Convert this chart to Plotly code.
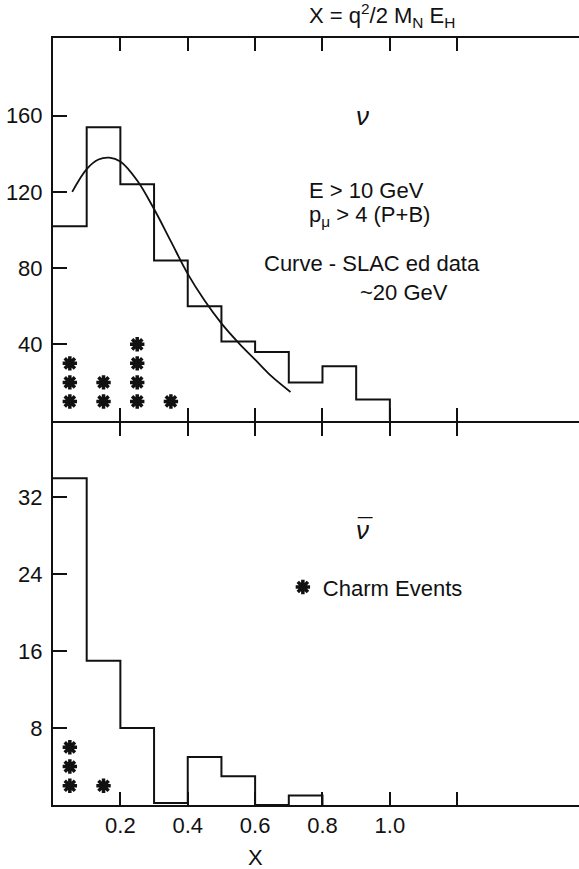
import plotly.graph_objects as go

# ---------------- data ----------------
bin_edges = [0.0, 0.1, 0.2, 0.3, 0.4, 0.5, 0.6, 0.7, 0.8, 0.9, 1.0]
nu_counts = [102, 154, 124, 84, 60, 41.5, 36, 20, 28.5, 11]
nubar_edges = [0.0, 0.1, 0.2, 0.3, 0.4, 0.5, 0.6, 0.7, 0.8]
nubar_counts = [34, 15, 8, 0.2, 5, 3, 0, 1]

curve_x = [0.057, 0.1, 0.135, 0.167, 0.2, 0.25, 0.3, 0.35, 0.4, 0.45, 0.5, 0.555, 0.6, 0.65, 0.705]
curve_y = [120, 132, 137, 138, 136, 126, 111, 94, 77, 63, 51, 40, 32, 23, 15]

charm_nu_x = [0.05, 0.05, 0.05, 0.15, 0.15, 0.25, 0.25, 0.25, 0.25, 0.35]
charm_nu_y = [10, 20, 30, 10, 20, 10, 20, 30, 40, 10]
charm_nubar_x = [0.05, 0.05, 0.05, 0.15]
charm_nubar_y = [2, 4, 6, 2]

x_tickvals = [0.2, 0.4, 0.6, 0.8, 1.0, 1.2]
x_ticktext = ["0.2", "0.4", "0.6", "0.8", "1.0", ""]
nu_yticks = [40, 80, 120, 160]
nubar_yticks = [8, 16, 24, 32]

X_RANGE = [0, 1.5615]
NU_RANGE = [0, 200.8]
NUBAR_RANGE = [0, 39.79]

FONT = "Liberation Sans"
BLACK = "#111111"

star = dict(symbol="asterisk", size=12, color=BLACK, line=dict(color=BLACK, width=3.5))

fig = go.Figure()

# top histogram (nu)
fig.add_trace(go.Scatter(
    x=bin_edges, y=nu_counts + [0], mode="lines", line=dict(shape="hv", color=BLACK, width=2),
    xaxis="x2", yaxis="y2", showlegend=False, hoverinfo="skip"))
# SLAC curve
fig.add_trace(go.Scatter(
    x=curve_x, y=curve_y, mode="lines", line=dict(shape="spline", color=BLACK, width=1.8),
    xaxis="x2", yaxis="y2", showlegend=False, hoverinfo="skip"))
# charm events top
fig.add_trace(go.Scatter(
    x=charm_nu_x, y=charm_nu_y, mode="markers", marker=star,
    xaxis="x2", yaxis="y2", showlegend=False, hoverinfo="skip"))

# bottom histogram (nubar)
fig.add_trace(go.Scatter(
    x=nubar_edges, y=nubar_counts + [0], mode="lines", line=dict(shape="hv", color=BLACK, width=2),
    xaxis="x", yaxis="y", showlegend=False, hoverinfo="skip"))
fig.add_trace(go.Scatter(
    x=charm_nubar_x, y=charm_nubar_y, mode="markers", name="Charm Events", marker=star,
    xaxis="x", yaxis="y", showlegend=True, hoverinfo="skip"))

tickfont = dict(family=FONT, size=22, color=BLACK)

common_x = dict(range=X_RANGE, tickvals=x_tickvals, ticks="inside", ticklen=13, tickwidth=2,
                tickcolor=BLACK, showline=True, linewidth=2, linecolor=BLACK, mirror="ticks",
                showgrid=False, zeroline=False)
common_y = dict(ticks="inside", ticklen=14, tickwidth=2, tickcolor=BLACK, showline=True,
                linewidth=2, linecolor=BLACK, mirror=False, showgrid=False, zeroline=False,
                tickfont=tickfont, ticklabelstandoff=4)
right_y = dict(ticks="inside", ticklen=12, tickwidth=2, tickcolor=BLACK, showline=False,
               showgrid=False, zeroline=False, showticklabels=False, side="right")

PLOT_H = 767
SPLIT = 0.5013
BOTTOM_TOP = SPLIT - 2 / PLOT_H

fig.update_layout(
    width=579, height=869,
    margin=dict(l=53, r=0, t=38, b=64),
    paper_bgcolor="white", plot_bgcolor="white",
    font=dict(family=FONT, size=21, color=BLACK),
    xaxis=dict(anchor="y", domain=[0, 1], ticktext=x_ticktext, tickfont=tickfont,
               ticklabelstandoff=0, **common_x),
    xaxis2=dict(anchor="y2", domain=[0, 1], matches="x", showticklabels=False, **common_x),
    yaxis=dict(anchor="x", domain=[0, BOTTOM_TOP], range=NUBAR_RANGE, tickvals=nubar_yticks, **common_y),
    yaxis2=dict(anchor="x2", domain=[SPLIT, 1], range=NU_RANGE, tickvals=nu_yticks, **common_y),
    yaxis3=dict(anchor="x", overlaying="y", range=NUBAR_RANGE, tickvals=nubar_yticks, **right_y),
    yaxis4=dict(anchor="x2", overlaying="y2", range=NU_RANGE, tickvals=nu_yticks, **right_y),
    legend=dict(x=0.437, y=0.284, xanchor="left", yanchor="middle", bgcolor="rgba(0,0,0,0)",
                font=dict(family=FONT, size=22, color=BLACK), itemwidth=30),
)

ann = []
def add(text, x, y, xref="x2", yref="y2", xanchor="center", size=22, **kw):
    ann.append(dict(text=text, x=x, y=y, xref=xref, yref=yref, xanchor=xanchor, yanchor="middle",
                    showarrow=False, font=dict(family=FONT, size=size, color=BLACK), **kw))

add("X = q<sup>2</sup>/2 M<sub>N</sub> E<sub>H</sub>", 0.976, (805 - 16) / 767, yref="paper", size=22)
add("<i>ν</i>", 0.92, 160, size=26)
add("E > 10 GeV", 0.753, 120.5, xanchor="left")
add("p<sub>μ</sub> > 4 (P+B)", 0.753, 107.5, xanchor="left")
add("Curve - SLAC ed data", 0.62, 82.6, xanchor="left")
add("~20 GeV", 0.905, 67.4, xanchor="left")
add("<i>ν</i>", 0.92, 28.6, xref="x", yref="y", size=26)
add("¯", 0.925, 28.8, xref="x", yref="y", size=26)
add("X", 0.6, (805 - 858) / 767, xref="x", yref="paper", size=22)

fig.update_layout(annotations=ann)

fig.write_html("out.html", config={"displayModeBar": False},
               post_script="document.body.style.margin='0';document.body.style.overflow='hidden';")
